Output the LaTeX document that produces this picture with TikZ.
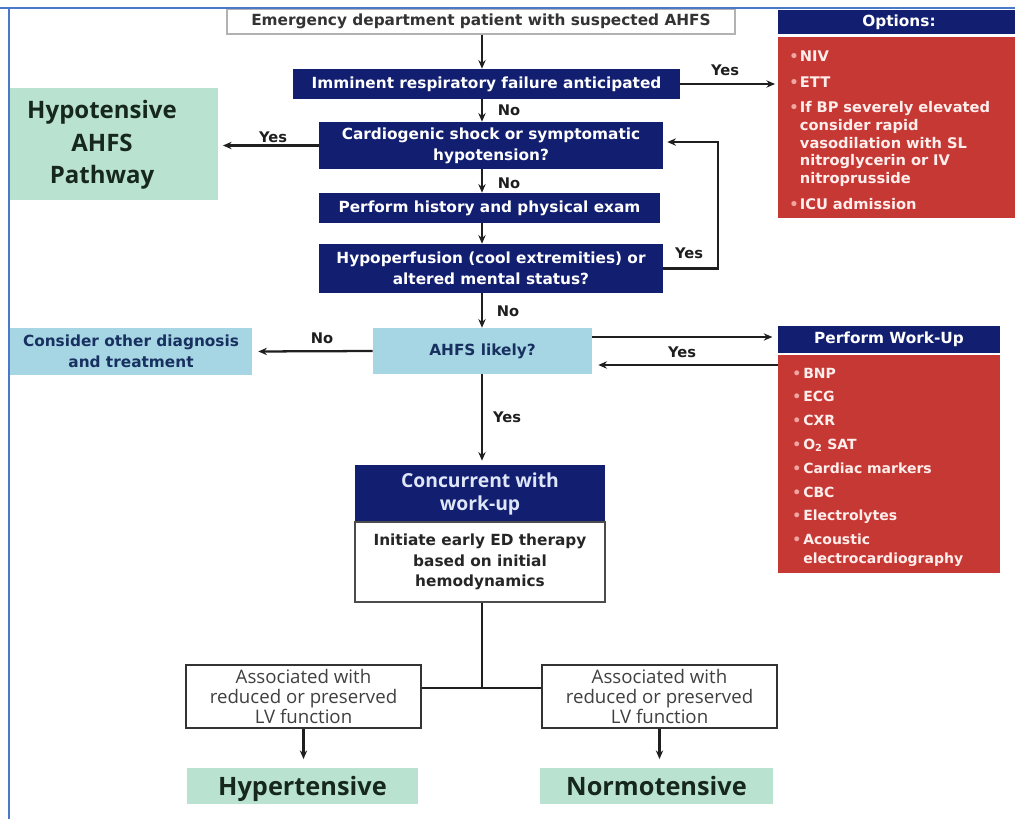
\documentclass[tikz,border=0pt]{standalone}
\usepackage{fontspec}
\setmainfont{DejaVu Sans}
\newfontfamily\humsans{Open Sans}
\usetikzlibrary{arrows.meta,calc}

\definecolor{navy}{RGB}{18,30,112}
\definecolor{redbox}{RGB}{198,56,52}
\definecolor{mint}{RGB}{186,226,208}
\definecolor{skyblue}{RGB}{166,214,228}
\definecolor{framec}{RGB}{72,122,200}
\definecolor{darknavy}{RGB}{24,48,96}
\definecolor{bulc}{RGB}{240,165,160}
\definecolor{redtext}{RGB}{255,238,236}
\definecolor{lbltext}{RGB}{30,30,30}
\definecolor{mintext}{RGB}{22,40,30}
\definecolor{conctext}{RGB}{222,230,248}

% bulleted entry with hanging indent for the red panels
\newcommand\bitem[2]{\par\hangindent=#1\hangafter=1\noindent\makebox[#1][l]{\textcolor{bulc}{\textbullet}}#2}

\begin{document}
\begin{tikzpicture}[x=0.75pt,y=-0.75pt,
  sz/.style 2 args={minimum width=#1*0.75pt, minimum height=#2*0.75pt},
  basebox/.style={rectangle, inner sep=0pt, align=center,
    font=\bfseries\fontsize{11.5}{15.5}\selectfont},
  navybox/.style={basebox, fill=navy, text=white},
  skybox/.style={basebox, fill=skyblue, text=darknavy},
  mintbox/.style={rectangle, inner sep=0pt, fill=mint},
  mintxt/.style={inner sep=0pt, align=center, text=mintext,
    font=\humsans\bfseries\fontsize{18}{24.5}\selectfont},
  whitebox/.style={basebox, fill=white, draw=black!70, line width=1.1pt, text=black!85},
  lvbox/.style={rectangle, inner sep=0pt, align=center, fill=white, draw=black!80,
    line width=1.4pt, text=black!75, font=\humsans\fontsize{14}{14.8}\selectfont},
  redbody/.style={rectangle, inner sep=0pt, fill=redbox},
  optlist/.style={inner sep=0pt, align=left, text width=165pt, text=redtext,
    font=\bfseries\fontsize{11}{13.2}\selectfont\setlength{\parskip}{6.2pt}},
  wulist/.style={inner sep=0pt, align=left, text width=155pt, text=redtext,
    font=\bfseries\fontsize{10.5}{14.25}\selectfont\setlength{\parskip}{3.6pt}},
  arr/.style={draw=black!88, line width=1.7pt, -{Stealth[length=6.5pt,width=5.5pt]}},
  link/.style={draw=black!88, line width=2pt},
  lbl/.style={inner sep=0pt, text=lbltext, font=\bfseries\fontsize{11}{13}\selectfont}
]
\useasboundingbox (0,0) rectangle (1015,819);

% ---- main column ----
\node[basebox, sz={508}{25}, draw=black!30, line width=0.9pt, fill=white, text=black!80]
  (ed) at (481,21.5) {Emergency department patient with suspected AHFS};
\node[navybox, sz={387}{30}] (irf) at (486.5,84) {Imminent respiratory failure anticipated};
\node[navybox, sz={344}{47}] (cs) at (491,145.5) {Cardiogenic shock or symptomatic\\hypotension?};
\node[navybox, sz={341}{30}] (hx) at (489.5,208) {Perform history and physical exam};
\node[navybox, sz={344}{49}] (hp) at (491,268.5) {Hypoperfusion (cool extremities) or\\altered mental status?};
\node[skybox, sz={219}{46}] (ahfs) at (482.5,351) {AHFS likely?};
\node[skybox, sz={242}{47}] (cod) at (131,351.5) {Consider other diagnosis\\and treatment};

% ---- hypotensive pathway ----
\node[mintbox, sz={208}{112}] (hyp) at (114,144) {};
\node[mintxt] (hyptxt) at (102,145) {Hypotensive\\AHFS\\Pathway};

% ---- options panel ----
\node[navybox, sz={242}{24}] (optH) at (899,22) {Options:};
\node[redbody, sz={242}{181}] (optB) at (899,127.5) {};
\node[optlist, anchor=north west] (optL) at (789,35) {%
  \bitem{8pt}{NIV}%
  \bitem{8pt}{ETT}%
  \bitem{8pt}{If BP severely elevated\newline consider rapid\newline vasodilation with SL\newline nitroglycerin or IV\newline nitroprusside}%
  \bitem{8pt}{ICU admission}\par};

% ---- work-up panel ----
\node[navybox, sz={222}{27}] (wuH) at (889,339.5) {Perform Work-Up};
\node[redbody, sz={222}{218}] (wuB) at (889,464) {};
\node[wulist, anchor=north west] (wuL) at (792,354) {%
  \bitem{8.25pt}{BNP}%
  \bitem{8.25pt}{ECG}%
  \bitem{8.25pt}{CXR}%
  \bitem{8.25pt}{O\textsubscript{2} SAT}%
  \bitem{8.25pt}{Cardiac markers}%
  \bitem{8.25pt}{CBC}%
  \bitem{8.25pt}{Electrolytes}%
  \bitem{8.25pt}{Acoustic\newline electrocardiography}\par};

% ---- therapy ----
\node[rectangle, inner sep=0pt, align=center, fill=navy, text=conctext, sz={250}{57},
  font=\humsans\bfseries\fontsize{14.5}{17.25}\selectfont] (conc) at (480,493.5) {Concurrent with\\work-up};
\node[whitebox, sz={250}{80}] (init) at (480,562) {Initiate early ED therapy\\based on initial\\hemodynamics};

\node[lvbox, sz={235}{63}] (lv1) at (303.5,696.5) {Associated with\\reduced or preserved\\LV function};
\node[lvbox, sz={235}{63}] (lv2) at (659.5,696.5) {Associated with\\reduced or preserved\\LV function};

\node[mintbox, sz={231}{36}, text=mintext, text depth=0pt,
  font=\humsans\bfseries\fontsize{19}{22}\selectfont] (hyper) at (302.5,786) {Hypertensive};
\node[mintbox, sz={233}{36}, text=mintext, text depth=0pt,
  font=\humsans\bfseries\fontsize{19}{22}\selectfont] (normo) at (656.5,786) {Normotensive};

% ---- connectors ----
\coordinate (spine) at (482,0);
\coordinate (ret) at (718,0);
\coordinate (junction) at (482,688);
\coordinate (csin) at ([yshift=2.6pt]cs.east);
\coordinate (wuout) at ([yshift=10.5pt]ahfs.east);
\coordinate (wuback) at ([yshift=-10.5pt]ahfs.east);

\draw[arr] (ed.south -| spine) -- (irf.north -| spine);
\draw[arr, shorten >=2pt] (irf.east) -- (irf.east -| optB.west);
\draw[arr] (irf.south -| spine) -- (cs.north -| spine);
\draw[arr, shorten >=3.5pt] (cs.west) -- (cs.west -| hyp.east);
\draw[arr] (cs.south -| spine) -- (hx.north -| spine);
\draw[arr] (hx.south -| spine) -- (hp.north -| spine);
\draw[arr, shorten >=3pt] (hp.east) -- (hp.east -| ret) -- (ret |- csin) -- (csin);
\draw[arr] (hp.south -| spine) -- (ahfs.north -| spine);
\draw[arr, shorten >=4.5pt] (ahfs.west) -- (cod.east);
\draw[arr, shorten >=4pt] (wuout) -- (wuout -| wuH.west);
\draw[arr, shorten >=4.5pt] (wuback -| wuB.west) -- (wuback);
\draw[arr, shorten >=3pt] (ahfs.south -| spine) -- (conc.north -| spine);
\draw[link] (init.south -| spine) -- (junction);
\draw[link] (lv1.east |- junction) -- (lv2.west |- junction);
\draw[arr, shorten >=6.5pt] (lv1.south) -- (lv1.south |- hyper.north);
\draw[arr, shorten >=6.5pt] (lv2.south) -- (lv2.south |- normo.north);

% ---- branch labels ----
\node[lbl] (y1) at (725,70) {Yes};
\node[lbl] (n1) at (509,110) {No};
\node[lbl] (y2) at (273,137) {Yes};
\node[lbl] (n2) at (509,183) {No};
\node[lbl] (y3) at (689,253) {Yes};
\node[lbl] (n3) at (508,311) {No};
\node[lbl] (n4) at (322,338) {No};
\node[lbl] (y4) at (682,352) {Yes};
\node[lbl] (y5) at (507,417) {Yes};

% ---- page frame ----
\draw[framec, line width=1.5pt] (0,8) -- (1015,8);
\draw[framec, line width=1.5pt] (9,8) -- (9,819);
\end{tikzpicture}
\end{document}
